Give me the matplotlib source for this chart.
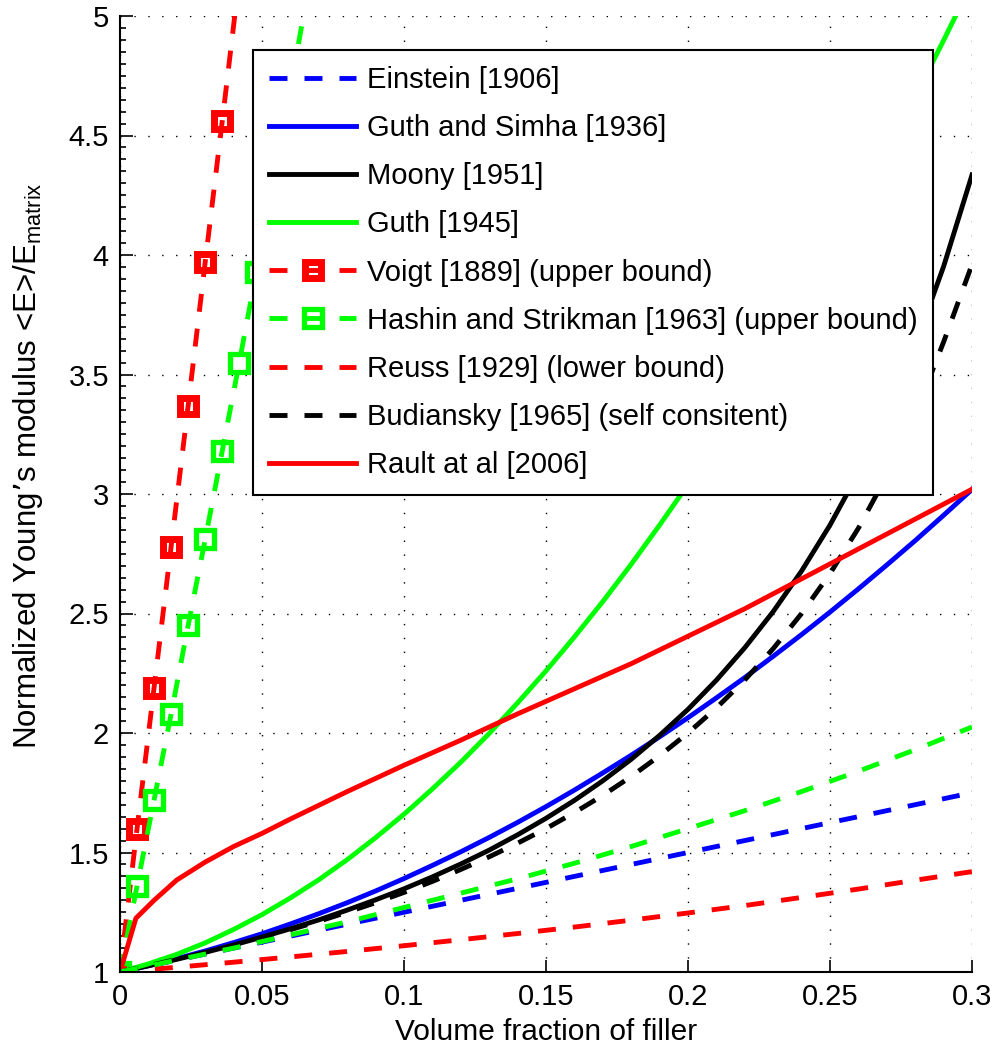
import matplotlib
matplotlib.use("Agg")
import matplotlib.pyplot as plt
from matplotlib.ticker import FormatStrFormatter, MultipleLocator

plt.rcParams["font.family"] = ["Liberation Sans", "DejaVu Sans"]
plt.rcParams["mathtext.default"] = "regular"

# coarse grid for the nearly straight curves
phi = [0.00, 0.02, 0.04, 0.06, 0.08, 0.10, 0.12, 0.14, 0.16, 0.18, 0.20, 0.22, 0.24, 0.26, 0.28, 0.30]
einstein = [1.00, 1.05, 1.10, 1.15, 1.20, 1.25, 1.30, 1.35, 1.40, 1.45, 1.50, 1.55, 1.60, 1.65, 1.70, 1.75]
hs_lower = [1.00, 1.05, 1.10, 1.155, 1.21, 1.27, 1.33, 1.39, 1.455, 1.525, 1.60, 1.675, 1.755, 1.84, 1.93, 2.025]
reuss = [1.00, 1.020, 1.041, 1.063, 1.086, 1.110, 1.135, 1.161, 1.188, 1.217, 1.247, 1.278, 1.312, 1.347, 1.384, 1.420]

# finer grid for the strongly curved ones
phi_f = [0.00, 0.01, 0.02, 0.03, 0.04, 0.05, 0.06, 0.07, 0.08, 0.09, 0.10, 0.11, 0.12, 0.13, 0.14, 0.15,
         0.16, 0.17, 0.18, 0.19, 0.20, 0.21, 0.22, 0.23, 0.24, 0.25, 0.26, 0.27, 0.28, 0.29, 0.30]
guth_simha = [1.000, 1.026, 1.056, 1.088, 1.123, 1.160, 1.201, 1.244, 1.290, 1.339, 1.391, 1.446, 1.503,
              1.563, 1.626, 1.692, 1.761, 1.833, 1.907, 1.984, 2.064, 2.147, 2.232, 2.321, 2.412, 2.506,
              2.603, 2.703, 2.805, 2.911, 3.019]
moony = [1.000, 1.026, 1.053, 1.082, 1.113, 1.146, 1.181, 1.218, 1.259, 1.302, 1.348, 1.398, 1.452,
         1.510, 1.574, 1.643, 1.718, 1.800, 1.890, 1.990, 2.099, 2.221, 2.357, 2.508, 2.678, 2.870,
         3.088, 3.337, 3.622, 3.952, 4.335]
guth = [1.000, 1.034, 1.074, 1.122, 1.178, 1.240, 1.310, 1.386, 1.470, 1.562, 1.660, 1.766, 1.878,
        1.998, 2.126, 2.260, 2.402, 2.550, 2.706, 2.870, 3.040, 3.218, 3.402, 3.594, 3.794, 4.000,
        4.214, 4.434, 4.662, 4.898, 5.140]
budiansky = [1.000, 1.026, 1.053, 1.081, 1.111, 1.143, 1.177, 1.212, 1.250, 1.290, 1.333, 1.379, 1.429,
             1.482, 1.539, 1.600, 1.667, 1.739, 1.818, 1.905, 2.000, 2.105, 2.222, 2.353, 2.500, 2.667,
             2.857, 3.077, 3.333, 3.636, 3.960]

# bounds sampled on a fine grid (markers at each sample)
phi_b = [0.000, 0.006, 0.012, 0.018, 0.024, 0.030, 0.036, 0.042, 0.048, 0.054, 0.060, 0.066]
voigt = [1.00, 1.60, 2.19, 2.78, 3.37, 3.97, 4.56, 5.16, 5.75, 6.35, 6.94, 7.53]
hs_upper = [1.00, 1.36, 1.72, 2.08, 2.45, 2.81, 3.18, 3.55, 3.93, 4.31, 4.70, 5.09]

phi_rault = [0.0, 0.0056, 0.012, 0.02, 0.03, 0.04, 0.05, 0.06, 0.08, 0.10, 0.12, 0.14,
             0.16, 0.18, 0.20, 0.22, 0.24, 0.26, 0.28, 0.30]
rault = [1.00, 1.225, 1.30, 1.385, 1.46, 1.525, 1.58, 1.64, 1.755, 1.865, 1.97, 2.08,
         2.185, 2.29, 2.405, 2.52, 2.645, 2.77, 2.895, 3.02]

BLUE, RED, GREEN, BLACK = "#0000ff", "#ff0000", "#00ff00", "#000000"
LW = 3.5
DASH = (0, (3.7, 3.5))
FS = 21

fig = plt.figure(figsize=(9.97, 10.5), dpi=100)
ax = fig.add_axes([120 / 997, 78 / 1050, 852 / 997, 956 / 1050])

ax.plot(phi, einstein, color=BLUE, lw=LW, ls=DASH, label="Einstein [1906]")
ax.plot(phi_f, guth_simha, color=BLUE, lw=LW, label="Guth and Simha [1936]")
ax.plot(phi_f, moony, color=BLACK, lw=LW, label="Moony [1951]")
ax.plot(phi_f, guth, color=GREEN, lw=LW, label="Guth [1945]")
ax.plot(phi_b, voigt, color=RED, lw=LW, ls=DASH, marker="s", ms=12, mew=5,
        mfc="none", mec=RED, label="Voigt [1889] (upper bound)")
ax.plot(phi_b, hs_upper, color=GREEN, lw=LW, ls=DASH, marker="s", ms=13, mew=3.8,
        mfc="none", mec=GREEN, label="Hashin and Strikman [1963] (upper bound)")
ax.plot(phi, reuss, color=RED, lw=LW, ls=DASH, label="Reuss [1929] (lower bound)")
ax.plot(phi_f, budiansky, color=BLACK, lw=LW, ls=DASH, label="Budiansky [1965] (self consitent)")
ax.plot(phi_rault, rault, color=RED, lw=LW, label="Rault at al [2006]")
ax.plot(phi, hs_lower, color=GREEN, lw=LW, ls=DASH)

ax.set_xlim(0, 0.3)
ax.set_ylim(1, 5)
ax.xaxis.set_major_locator(MultipleLocator(0.05))
ax.yaxis.set_major_locator(MultipleLocator(0.5))
ax.yaxis.set_minor_locator(MultipleLocator(0.05))
ax.xaxis.set_major_formatter(FormatStrFormatter("%g"))
ax.yaxis.set_major_formatter(FormatStrFormatter("%g"))
ax.tick_params(which="both", direction="in", labelsize=FS, width=1.2, colors="black")
ax.tick_params(which="major", length=9, pad=8)
ax.tick_params(which="minor", length=4)
ax.grid(True, which="major", color="black", lw=1.0, ls=(0, (1, 9)))
ax.spines["top"].set_visible(False)
ax.spines["right"].set_visible(False)
ax.spines["left"].set_linewidth(1.5)
ax.spines["bottom"].set_linewidth(1.5)

ax.set_xlabel("Volume fraction of filler", fontsize=21.5, labelpad=5)
ax.set_ylabel("Normalized Young\u2019s modulus <E>/E$_{matrix}$", fontsize=22.5)
ax.yaxis.set_label_coords(-0.088, 0.53)

leg = ax.legend(loc="upper left", bbox_to_anchor=(0.156, 0.9644), borderaxespad=0,
                fontsize=FS, numpoints=1, handlelength=3.0, handletextpad=0.35,
                labelspacing=0.69, borderpad=0.55, fancybox=False, framealpha=1,
                edgecolor="black")
leg.get_frame().set_linewidth(1.5)

fig.savefig("out.png", dpi=100)
plt.close(fig)
